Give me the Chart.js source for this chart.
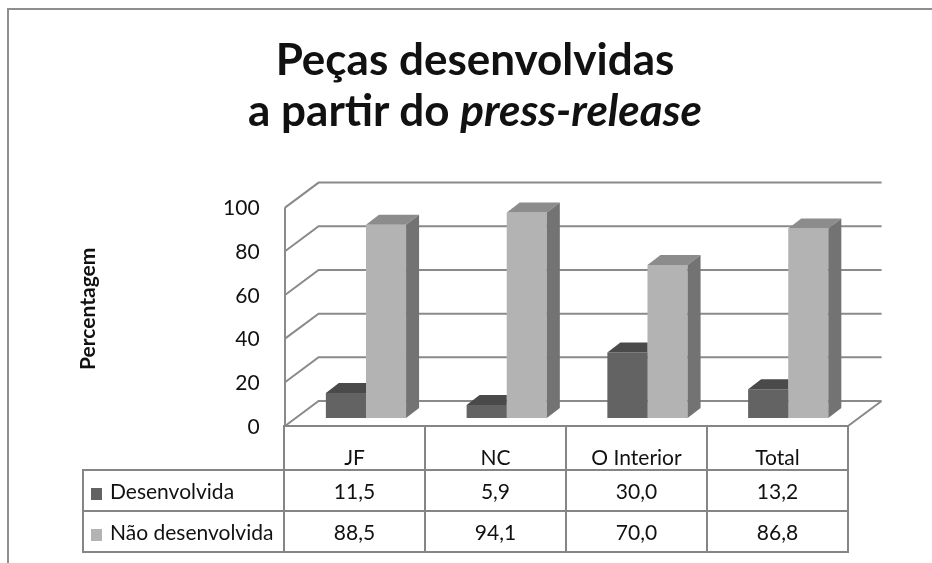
<!DOCTYPE html>
<html>
<head>
<meta charset="utf-8">
<script src="https://cdn.jsdelivr.net/npm/chart.js@4.4.1/dist/chart.umd.min.js"></script>
<style>
  body { margin: 0; background: #fff; }
  #wrap { position: relative; width: 932px; height: 563px; overflow: hidden; font-family: Lato, 'Open Sans', sans-serif; color: #111; }
  #frame { position: absolute; left: 7px; top: 8px; width: 960px; height: 600px; border: 2px solid #8e8e8e; }
  canvas { position: absolute; left: 0; top: 0; }
  #title { position: absolute; left: 0; top: 33px; width: 950px; text-align: center; font-weight: bold; font-size: 44px; line-height: 51px; }
  #dataTable { position: absolute; left: 82px; top: 425px; border-collapse: collapse; table-layout: fixed; font-size: 21px; }
  #dataTable td { border: 2px solid #858585; text-align: center; padding: 0; height: 39px; white-space: nowrap; }
  #dataTable tr.head td { height: 42px; vertical-align: bottom; padding-bottom: 0; }
  #dataTable td.blank { border-top: none; border-left: none; }
  #dataTable td.name { text-align: left; padding-left: 7px; }
  .key { display: inline-block; width: 11px; height: 12px; margin-right: 8px; vertical-align: -1px; }
</style>
</head>
<body>
<div id="wrap">
  <div id="frame"></div>
  <canvas id="chart" width="932" height="563"></canvas>
  <div id="title">Peças desenvolvidas<br>a partir do <i>press-release</i></div>
  <table id="dataTable"></table>
</div>
<script>
const categories = ['JF', 'NC', 'O Interior', 'Total'];
const seriesNames = ['Desenvolvida', 'Não desenvolvida'];
const desenvolvida = [11.5, 5.9, 30.0, 13.2];
const naoDesenvolvida = [88.5, 94.1, 70.0, 86.8];
const yTicks = [0, 20, 40, 60, 80, 100];

const frontColors = ['#636363', '#b3b3b3'];
const topColors = ['#4a4a4a', '#8c8c8c'];
const sideColors = ['#555555', '#737373'];

// offsets of the back wall / front floor edge from the bar plane, and bar depth
const BACK = { dx: 23, dy: -17 };
const FRONT = { dx: -10.6, dy: 8 };
const BAR = { dx: 13, dy: -10 };

function drawBox(ctx, el, topColor, sideColor) {
  const { x, y, base, width } = el.getProps(['x', 'y', 'base', 'width'], true);
  const left = x - width / 2, right = x + width / 2;
  ctx.fillStyle = topColor;
  ctx.beginPath();
  ctx.moveTo(left, y);
  ctx.lineTo(left + BAR.dx, y + BAR.dy);
  ctx.lineTo(right + BAR.dx, y + BAR.dy);
  ctx.lineTo(right, y);
  ctx.closePath();
  ctx.fill();
  ctx.fillStyle = sideColor;
  ctx.beginPath();
  ctx.moveTo(right, y);
  ctx.lineTo(right + BAR.dx, y + BAR.dy);
  ctx.lineTo(right + BAR.dx, base + BAR.dy);
  ctx.lineTo(right, base);
  ctx.closePath();
  ctx.fill();
}

const view3d = {
  id: 'view3d',
  beforeDatasetsDraw(chart) {
    const { ctx, chartArea: a, scales: { y } } = chart;
    ctx.save();
    ctx.strokeStyle = '#8a8a8a';
    ctx.lineWidth = 2;
    ctx.beginPath();
    yTicks.forEach(v => {
      const py = y.getPixelForValue(v);
      ctx.moveTo(a.left + FRONT.dx, py + FRONT.dy);
      ctx.lineTo(a.left + BACK.dx, py + BACK.dy);
      ctx.lineTo(a.right + BACK.dx, py + BACK.dy);
    });
    const y0 = y.getPixelForValue(0), yMax = y.getPixelForValue(100);
    ctx.moveTo(a.left + FRONT.dx, yMax + FRONT.dy);
    ctx.lineTo(a.left + FRONT.dx, y0 + FRONT.dy);
    ctx.lineTo(a.right + FRONT.dx, y0 + FRONT.dy);
    ctx.lineTo(a.right + BACK.dx, y0 + BACK.dy);
    ctx.stroke();
    ctx.restore();
  },
  afterDatasetsDraw(chart) {
    const { ctx } = chart;
    const metaD = chart.getDatasetMeta(0), metaL = chart.getDatasetMeta(1);
    categories.forEach((c, i) => {
      const d = metaD.data[i], l = metaL.data[i];
      const lightLeft = l.x - l.width / 2;
      ctx.save();
      ctx.beginPath();
      ctx.rect(0, 0, lightLeft, chart.height);
      ctx.clip();
      drawBox(ctx, d, topColors[0], sideColors[0]);
      ctx.restore();
      ctx.save();
      drawBox(ctx, l, topColors[1], sideColors[1]);
      ctx.restore();
    });
  }
};

const chart = new Chart(document.getElementById('chart'), {
  type: 'bar',
  data: {
    labels: categories,
    datasets: [
      { label: seriesNames[0], data: desenvolvida, backgroundColor: frontColors[0], borderWidth: 0 },
      { label: seriesNames[1], data: naoDesenvolvida, backgroundColor: frontColors[1], borderWidth: 0 }
    ]
  },
  options: {
    responsive: false,
    animation: false,
    layout: { padding: { left: 60, top: 199.6, right: 73.4, bottom: 145 } },
    categoryPercentage: 0.57,
    barPercentage: 1,
    plugins: { legend: { display: false }, tooltip: { enabled: false }, title: { display: false } },
    scales: {
      x: { display: false },
      y: {
        min: 0, max: 100,
        afterFit(scale) { scale.width = 235.6; },
        grid: { display: false, drawTicks: false },
        border: { display: false },
        ticks: { stepSize: 20, padding: 36, labelOffset: 9, color: '#111', font: { family: 'Lato', size: 21 } },
        title: { display: true, text: 'Percentagem', color: '#111', padding: { top: 16, bottom: 0 }, font: { family: 'Lato', size: 21, weight: 'bold' } }
      }
    }
  },
  plugins: [view3d]
});

// data table under the plot
const fmt = v => v.toFixed(1).replace('.', ',');
const seriesValues = [desenvolvida, naoDesenvolvida];
let html = '<colgroup><col style="width:201px">' + categories.map(() => '<col style="width:141px">').join('') + '</colgroup>';
html += '<tr class="head"><td class="blank"></td>' + categories.map(c => `<td>${c}</td>`).join('') + '</tr>';
seriesNames.forEach((name, s) => {
  html += `<tr><td class="name"><span class="key" style="background:${frontColors[s]}"></span>${name}</td>` +
    seriesValues[s].map(v => `<td>${fmt(v)}</td>`).join('') + '</tr>';
});
document.getElementById('dataTable').innerHTML = html;
</script>
</body>
</html>
